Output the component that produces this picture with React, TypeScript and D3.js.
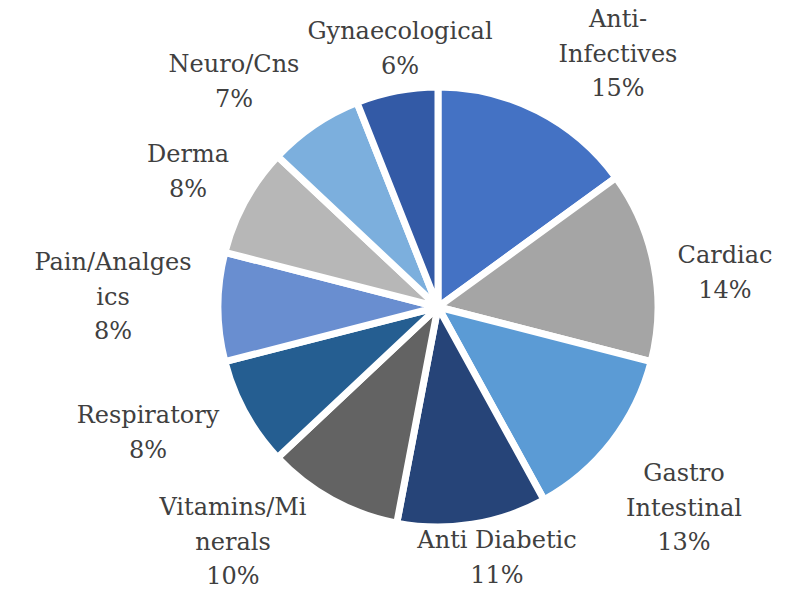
import React from "react";
import * as d3 from "d3";

const categories = [
  "Anti-Infectives",
  "Cardiac",
  "Gastro Intestinal",
  "Anti Diabetic",
  "Vitamins/Minerals",
  "Respiratory",
  "Pain/Analgesics",
  "Derma",
  "Neuro/Cns",
  "Gynaecological",
];
const shares = [15, 14, 13, 11, 10, 8, 8, 8, 7, 6];
const labelLines = [
  ["Anti-", "Infectives"],
  ["Cardiac"],
  ["Gastro", "Intestinal"],
  ["Anti Diabetic"],
  ["Vitamins/Mi", "nerals"],
  ["Respiratory"],
  ["Pain/Analges", "ics"],
  ["Derma"],
  ["Neuro/Cns"],
  ["Gynaecological"],
];
const colors = [
  "#4472C4", "#A5A5A5", "#5B9BD5", "#264478", "#636363",
  "#255E91", "#698ED0", "#B7B7B7", "#7CAFDD", "#335AA6",
];
// label block anchor (center x, first baseline) relative to pie center
const labelOffsets: [number, number][] = [
  [180, -280],
  [287, -44],
  [246, 174],
  [59, 241],
  [-205, 208],
  [-290, 116],
  [-325, -37],
  [-250, -145],
  [-204, -235],
  [-38, -268],
];

const W = 800, H = 589;
const cx = 438, cy = 307, R = 220;
const lineH = 34.7;

export default function App() {
  const pie = d3.pie<number>().sort(null).value((d) => d);
  const arcs = pie(shares);
  const arc = d3.arc<d3.PieArcDatum<number>>().innerRadius(0).outerRadius(R);
  return (
    <svg width={W} height={H} style={{ position: "absolute", left: 0, top: 0, background: "#fff" }}
      fontFamily="'DejaVu Serif', serif" fontSize={24}>
      <g transform={`translate(${cx},${cy})`}>
        {arcs.map((a, i) => (
          <path key={categories[i]} d={arc(a) || ""} fill={colors[i]} stroke="#fff" strokeWidth={7} strokeLinejoin="round" />
        ))}
        {arcs.map((a, i) => {
          const [ox, oy] = labelOffsets[i];
          const lines = [...labelLines[i], `${shares[i]}%`];
          return (
            <text key={"l" + i} x={ox} y={oy} textAnchor="middle" fill="#404040">
              {lines.map((ln, j) => (
                <tspan key={j} x={ox} y={oy + j * lineH}>{ln}</tspan>
              ))}
            </text>
          );
        })}
      </g>
    </svg>
  );
}
